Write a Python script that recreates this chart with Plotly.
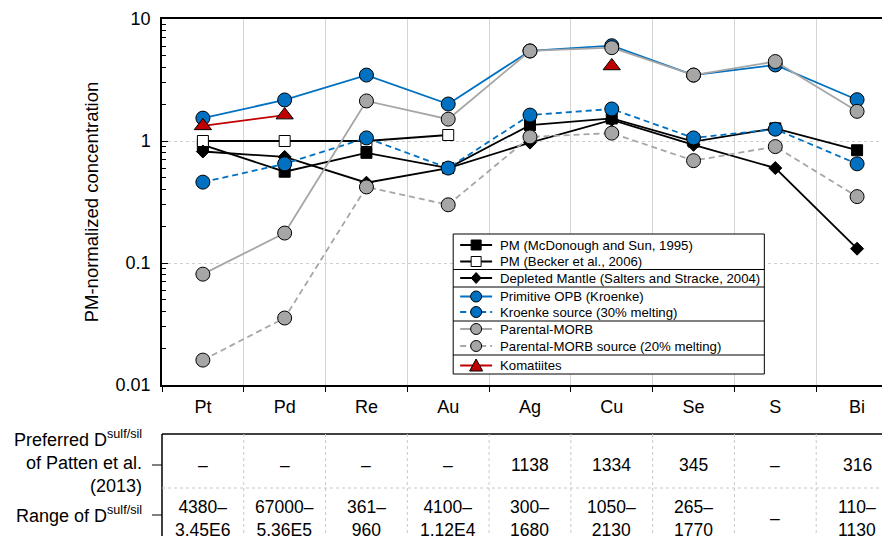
import plotly.graph_objects as go

# ---------------- data ----------------
elements = ["Pt", "Pd", "Re", "Au", "Ag", "Cu", "Se", "S", "Bi"]

pm_mcdonough = [0.93, 0.56, 0.80, 0.60, 1.35, 1.53, 0.99, 1.27, 0.84]
pm_becker = [1.0, 1.0, 1.0, 1.12, None, None, None, None, None]
depleted_mantle = [0.82, 0.74, 0.455, 0.60, 0.97, 1.49, 0.93, 0.60, 0.131]
primitive_opb = [1.54, 2.17, 3.47, 2.01, 5.47, 6.04, 3.47, 4.2, 2.18]
kroenke_source = [0.46, 0.65, 1.06, 0.60, 1.63, 1.83, 1.06, 1.25, 0.65]
parental_morb = [0.081, 0.176, 2.13, 1.51, 5.47, 5.82, 3.47, 4.48, 1.75]
parental_morb_source = [0.016, 0.0354, 0.42, 0.30, 1.08, 1.16, 0.69, 0.90, 0.35]
komatiites = [1.33, 1.63, None, None, None, 4.12, None, None, None]

y_tick_vals = [0.01, 0.1, 1, 10]
y_tick_text = ["0.01", "0.1", "1", "10"]

table_row_labels = ["Preferred D<sup>sulf/sil</sup><br>of Patten et al.<br>(2013)",
                    "Range of D<sup>sulf/sil</sup>"]
preferred_D = ["–", "–", "–", "–", "1138", "1334", "345", "–", "316"]
range_D = ["4380–<br>3.45E6", "67000–<br>5.36E5", "361–<br>960", "4100–<br>1.12E4",
           "300–<br>1680", "1050–<br>2130", "265–<br>1770", "–", "110–<br>1130"]

# ---------------- styles ----------------
BLUE = "#0070C0"
GRAY = "#A6A6A6"
RED = "#C00000"
FONT = "Liberation Sans, Arial, sans-serif"

series = [
    ("PM (McDonough and Sun, 1995)", pm_mcdonough, "black", "solid", "square", "black", 11),
    ("PM (Becker et al., 2006)", pm_becker, "black", "solid", "square", "white", 11),
    ("Depleted Mantle (Salters and Stracke, 2004)", depleted_mantle, "black", "solid", "diamond", "black", 10),
    ("Primitive OPB (Kroenke)", primitive_opb, BLUE, "solid", "circle", BLUE, 14),
    ("Kroenke source (30% melting)", kroenke_source, BLUE, "6px,4px", "circle", BLUE, 14),
    ("Parental-MORB", parental_morb, GRAY, "solid", "circle", GRAY, 14),
    ("Parental-MORB source (20% melting)", parental_morb_source, GRAY, "6px,4px", "circle", GRAY, 14),
    ("Komatiites", komatiites, RED, "solid", "triangle-up", RED, 15),
]

fig = go.Figure()
for name, vals, lc, dash, sym, fc, size in series:
    fig.add_trace(go.Scatter(
        x=elements, y=vals, name=name, mode="lines+markers",
        line=dict(color=lc, width=1.8, dash=dash),
        marker=dict(symbol=sym, color=fc, size=size, line=dict(color="black", width=1)),
        connectgaps=False, cliponaxis=False, showlegend=False,
    ))

# figure is drawn inside the page body, which is offset by 8 px
OFF = 8
W, H = 890 - OFF, 536 - OFF
ML, MR, MT, MB = 162 - OFF, 0, 19 - OFF, 151
plot_w = W - ML - MR
plot_h = H - MT - MB
cat_px = 82.0
x_max = -0.5 + plot_w / cat_px


def px(xpage):
    return (xpage - OFF - ML) / plot_w


def py(ypage):
    return (H - MB - (ypage - OFF)) / plot_h


minor_vals = [m * d for d in (0.01, 0.1, 1) for m in range(2, 10)]

fig.update_layout(
    width=W, height=H, autosize=False,
    margin=dict(l=ML, r=MR, t=MT, b=MB, pad=0),
    paper_bgcolor="white", plot_bgcolor="white",
    font=dict(family=FONT, color="black", size=18),
    showlegend=False,
    xaxis=dict(
        type="category", categoryorder="array", categoryarray=elements,
        range=[-0.5, x_max], tickson="boundaries",
        ticks="outside", ticklen=5, tickcolor="black", tickwidth=1,
        showline=True, linecolor="black", linewidth=1.5, mirror=True,
        showgrid=True, gridcolor="#D4D4D4", gridwidth=1,
        tickfont=dict(size=18), ticklabelstandoff=5, zeroline=False,
    ),
    yaxis=dict(
        type="log", range=[-2, 1],
        tickmode="array", tickvals=y_tick_vals, ticktext=y_tick_text,
        ticks="inside", ticklen=6, tickcolor="black", tickwidth=1,
        minor=dict(tickmode="array", tickvals=minor_vals, ticks="inside",
                   ticklen=4, tickcolor="black", showgrid=False),
        showline=True, linecolor="black", linewidth=1.5, mirror=True,
        showgrid=True, gridcolor="#D0D0D0", gridwidth=1, griddash="dot",
        tickfont=dict(size=18), ticklabelstandoff=6, zeroline=False,
        title=dict(text="PM-normalized concentration", font=dict(size=18.5), standoff=12),
    ),
)

shapes = []
ann = []

# ---------------- custom legend (groups separated by rules) ----------------
LX0, LX1, LY0, LY1 = 454, 766, 234, 374
shapes.append(dict(type="rect", xref="paper", yref="paper", layer="above",
                   x0=px(LX0), x1=px(LX1), y0=py(LY0), y1=py(LY1),
                   fillcolor="white", line=dict(color="black", width=1)))
for ysep in (269.5, 287, 321, 355):
    shapes.append(dict(type="line", xref="paper", yref="paper", layer="above",
                       x0=px(LX0), x1=px(LX1), y0=py(ysep), y1=py(ysep),
                       line=dict(color="black", width=1)))
legend_rows = [245, 261.5, 278, 296.5, 312, 329, 346, 365.5]
marker_paths = {
    "square": "M-5,-5 L5,-5 L5,5 L-5,5 Z",
    "diamond": "M0,5.5 L5,0 L0,-5.5 L-5,0 Z",
    "circle": None,
    "triangle-up": "M-6.5,-5.5 L6.5,-5.5 L0,6.5 Z",
}
for (name, vals, lc, dash, sym, fc, size), yrow in zip(series, legend_rows):
    shapes.append(dict(type="line", xref="paper", yref="paper", layer="above",
                       x0=px(461), x1=px(493), y0=py(yrow), y1=py(yrow),
                       line=dict(color=lc, width=1.8, dash=dash)))
    common = dict(xref="paper", yref="paper", layer="above",
                  xsizemode="pixel", ysizemode="pixel",
                  xanchor=px(477), yanchor=py(yrow),
                  fillcolor=fc, line=dict(color="black", width=1))
    if sym == "circle":
        shapes.append(dict(type="circle", x0=-5.5, x1=5.5, y0=-5.5, y1=5.5, **common))
    else:
        shapes.append(dict(type="path", path=marker_paths[sym], **common))
    ann.append(dict(text=name, xref="paper", yref="paper", x=px(499), y=py(yrow),
                    xanchor="left", yanchor="middle", showarrow=False,
                    font=dict(size=13.2)))

# ---------------- table below the axis ----------------
t_top, t_mid, t_bot = 434, 488, 560
shapes.append(dict(type="line", xref="paper", yref="paper", x0=0, x1=1,
                   y0=py(t_top), y1=py(t_top), line=dict(color="black", width=1.5)))
shapes.append(dict(type="line", xref="paper", yref="paper", x0=0, x1=0,
                   y0=py(t_top), y1=py(t_bot), line=dict(color="black", width=1.5)))
shapes.append(dict(type="line", xref="paper", yref="paper", x0=0, x1=1,
                   y0=py(t_mid), y1=py(t_mid), line=dict(color="#C8C8C8", width=1, dash="dot")))
for i in range(len(elements) - 1):
    shapes.append(dict(type="line", xref="x", yref="paper", x0=i + 0.5, x1=i + 0.5,
                       y0=py(t_top), y1=py(t_bot), line=dict(color="#C8C8C8", width=1, dash="dot")))
for yr in (465, 515):
    shapes.append(dict(type="line", xref="paper", yref="paper", x0=px(152), x1=0,
                       y0=py(yr), y1=py(yr), line=dict(color="black", width=1)))

ann.append(dict(text=table_row_labels[0], xref="paper", yref="paper", x=px(144), y=py(462),
                xanchor="right", yanchor="middle", align="right", showarrow=False,
                font=dict(size=18)))
ann.append(dict(text=table_row_labels[1], xref="paper", yref="paper", x=px(144), y=py(514),
                xanchor="right", yanchor="middle", align="right", showarrow=False,
                font=dict(size=18)))
for el, v in zip(elements, preferred_D):
    ann.append(dict(text=v, xref="x", yref="paper", x=el, y=py(465),
                    xanchor="center", yanchor="middle", showarrow=False, font=dict(size=17.5)))
for el, v in zip(elements, range_D):
    ann.append(dict(text=v, xref="x", yref="paper", x=el, y=py(518),
                    xanchor="center", yanchor="middle", showarrow=False, font=dict(size=17.5)))

fig.update_layout(shapes=shapes, annotations=ann)

fig.write_html("out.html")
